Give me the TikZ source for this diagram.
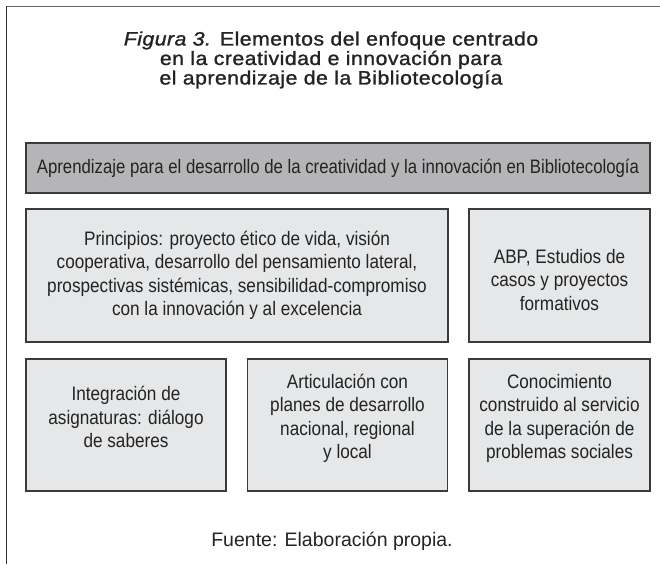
\documentclass[tikz,border=0pt]{standalone}
\usepackage{fontspec}
\setmainfont{Liberation Sans}
\newfontfamily\barf[FakeStretch=0.86]{Liberation Sans}
\newfontfamily\condf[FakeStretch=0.88]{Liberation Sans}
\newfontfamily\titlef[FakeStretch=1.1,LetterSpace=2.5,FakeBold=1.2]{Liberation Sans}
\definecolor{barfill}{RGB}{181,181,183}
\definecolor{boxfill}{RGB}{230,231,232}
\definecolor{edgecol}{RGB}{58,58,58}
\definecolor{topframe}{RGB}{105,105,105}
\definecolor{leftframe}{RGB}{50,50,50}
\definecolor{txt}{RGB}{35,35,35}
\begin{document}
\begin{tikzpicture}[x=1pt,y=-1pt,
  panel/.style={draw=edgecol, line width=1.1pt, inner sep=0pt, outer sep=0pt},
  darkpanel/.style={panel, fill=barfill, align=center, text=txt,
    font=\barf\fontsize{19.5pt}{23.3pt}\selectfont},
  lightpanel/.style={panel, fill=boxfill},
  paneltext/.style={inner sep=0pt, align=center, text=txt,
    font=\condf\fontsize{19.5pt}{23.5pt}\selectfont},
  titletext/.style={align=center, text=txt, inner sep=0pt,
    font=\titlef\fontsize{19.3pt}{19.5pt}\selectfont},
  sourcetext/.style={inner sep=0pt, text=txt, font=\fontsize{19.5pt}{22pt}\selectfont}]
\useasboundingbox (0,0) rectangle (660,564);
\fill[white] (0,0) rectangle (660,564);
\coordinate (fbl) at (6.5,564);
\coordinate (ftl) at (6.5,6.5);
\coordinate (ftr) at (660,6.5);
\draw[line width=1.6pt, leftframe] (fbl) -- (ftl);
\draw[line width=1.6pt, topframe] (ftl) -- (ftr);

\node[titletext] (title) at (331,60)
  {\textit{Figura 3.} Elementos del enfoque centrado\\
   en la creatividad e innovación para\\
   el aprendizaje de la Bibliotecología};

\node[darkpanel, minimum width=624pt, minimum height=50pt] (bar) at (338,168)
  {Aprendizaje para el desarrollo de la creatividad y la innovación en Bibliotecología};

\node[lightpanel, minimum width=422pt, minimum height=133pt] (prin) at (237,275.5) {};
\node[paneltext] (printext) at (prin.center)
  {Principios: proyecto ético de vida, visión\\
   cooperativa, desarrollo del pensamiento lateral,\\
   prospectivas sistémicas, sensibilidad-compromiso\\
   con la innovación y al excelencia};

\node[lightpanel, minimum width=181pt, minimum height=133pt] (abp) at (559.5,275.5) {};
\node[paneltext] (abptext) at ([yshift=-4.5pt]abp.center)
  {ABP, Estudios de\\ casos y proyectos\\ formativos};

\node[lightpanel, minimum width=200pt, minimum height=132pt] (integ) at (126,425) {};
\node[paneltext] (integtext) at ([yshift=8pt]integ.center)
  {Integración de\\ asignaturas: diálogo\\ de saberes};

\node[lightpanel, minimum width=200pt, minimum height=132pt] (artic) at (347.5,425) {};
\node[paneltext] (artictext) at ([yshift=6.5pt]artic.center)
  {Articulación con\\ planes de desarrollo\\ nacional, regional\\ y local};

\node[lightpanel, minimum width=181pt, minimum height=132pt] (conoc) at (559.5,425) {};
\node[paneltext] (conoctext) at ([yshift=6.5pt]conoc.center)
  {Conocimiento\\ construido al servicio\\ de la superación de\\ problemas sociales};

\node[sourcetext] (fuente) at (332,541) {Fuente: Elaboración propia.};
\end{tikzpicture}
\end{document}
